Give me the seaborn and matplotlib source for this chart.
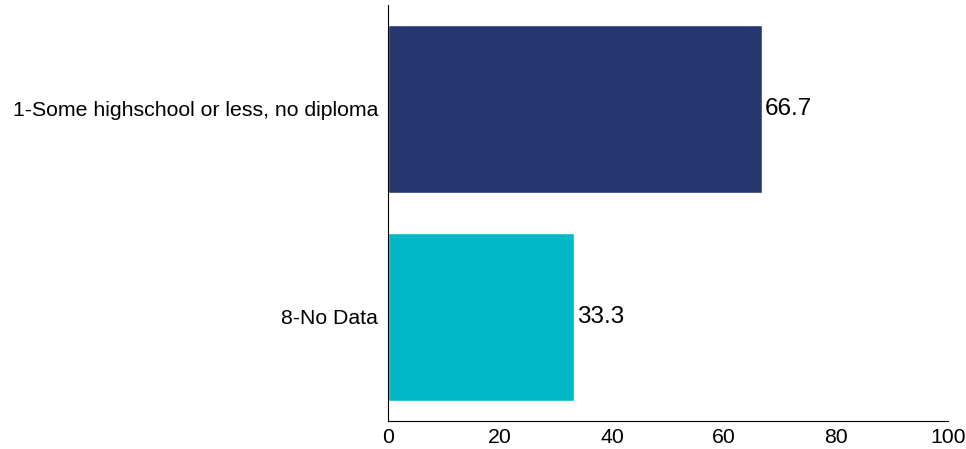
import pandas as pd
import seaborn as sns
import matplotlib
matplotlib.use("Agg")
import matplotlib.pyplot as plt

categories = ["1-Some highschool or less, no diploma", "8-No Data"]
values = [66.7, 33.3]
colors = ["#27376F", "#00B7C8"]

df = pd.DataFrame({"category": categories, "value": values})

sns.set_style("white")
plt.rcParams['font.family'] = ['Liberation Sans', 'DejaVu Sans']

fig = plt.figure(figsize=(9.66, 4.49), dpi=100)
ax = fig.add_axes([388 / 966, 1 - 421 / 449, 560 / 966, 416 / 449])

sns.barplot(data=df, x="value", y="category", hue="category", palette=colors,
            width=0.81, legend=False, ax=ax, saturation=1)

# value labels at bar ends
for i, v in enumerate(values):
    ax.text(v + 0.5, i, "%.1f" % v, va="center", ha="left", fontsize=17.5, color="black")

ax.set_xlim(0, 100)
ax.set_ylim(1.5, -0.5)
ax.set_xlabel("")
ax.set_ylabel("")
ax.set_xticks([0, 20, 40, 60, 80, 100])
ax.tick_params(axis="both", length=0, labelsize=15.3, labelcolor="black")
ax.tick_params(axis="x", pad=5)
ax.tick_params(axis="y", pad=7)
sns.despine(ax=ax, top=True, right=True)
ax.spines["left"].set_color("black")
ax.spines["bottom"].set_color("black")

plt.savefig("out.png", dpi=100)
